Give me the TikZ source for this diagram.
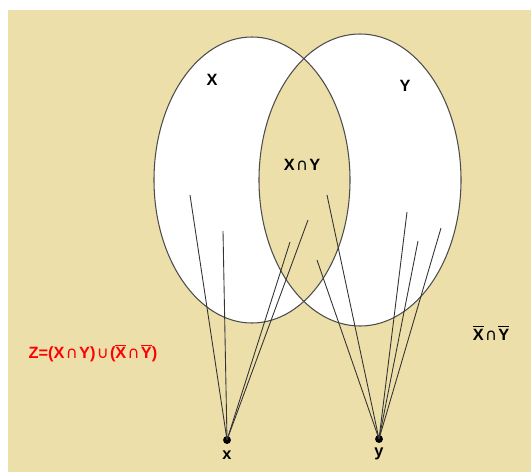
\documentclass[tikz,border=0pt]{standalone}
\usepackage{fontspec}
\setmainfont{Liberation Sans}
\newfontfamily\symfont{DejaVu Sans}
\usepackage{xcolor}
\usetikzlibrary{positioning}
\definecolor{sand}{RGB}{236,223,170}
\newcommand{\cp}{{\symfont\mdseries\kern0.08em ∩\kern0.08em}}
\newcommand{\cu}{{\symfont\mdseries\kern0.08em ∪\kern0.08em}}
\newcommand{\nt}[1]{\ensuremath{\overline{\mbox{#1}}}}

\begin{document}
\begin{tikzpicture}[x=0.02cm, y=-0.02cm,
    lbl/.style={font=\fontsize{9.3}{11}\selectfont\bfseries},
    dot/.style={circle, fill=black, inner sep=0pt, minimum size=4.5pt},
    ray/.style={draw=black!80, line width=0.5pt}]
    % Frame
    \useasboundingbox (0,0) rectangle (531,474);
    \fill[sand] (8,10) rectangle (531,472);

    % Sets
    \fill[white, even odd rule] (252,180) ellipse [x radius=98, y radius=143]
                                (360,180) ellipse [x radius=101, y radius=146];
    \draw[black!70, line width=0.6pt] (252,180) ellipse [x radius=98, y radius=143];
    \draw[black!70, line width=0.6pt] (360,180) ellipse [x radius=101, y radius=146];

    % Labels
    \node[lbl] (lX) at (212,80) {X};
    \node[lbl] (lY) at (405,86) {Y};
    \node[lbl] (lXY) at (302,165) {X\cp Y};
    \node[lbl] (lnXY) at (491,333) {\nt{X}\cp\nt{Y}};
    \node[lbl, text=red] (lZ) at (93,353) {Z=(X\cp Y)\cu(\nt{X}\cp\nt{Y})};

    % Points
    \node[dot] (x) at (227,440) {};
    \node[dot] (y) at (379,439) {};
    \node[lbl, below=0pt of x] (lx) {x};
    \node[lbl, below=-1pt of y] (ly) {y};

    % Ends
    \coordinate (x1) at (190,195);
    \coordinate (x2) at (223,231);
    \coordinate (x3) at (290,242);
    \coordinate (x4) at (308,220);
    \coordinate (y1) at (327,195);
    \coordinate (y2) at (317,260);
    \coordinate (y3) at (407,212);
    \coordinate (y4) at (418,241);
    \coordinate (y5) at (441,228);

    % Rays
    \foreach \e in {x1,x2,x3,x4} \draw[ray] (x.center) -- (\e);
    \foreach \e in {y1,y2,y3,y4,y5} \draw[ray] (y.center) -- (\e);
\end{tikzpicture}
\end{document}
